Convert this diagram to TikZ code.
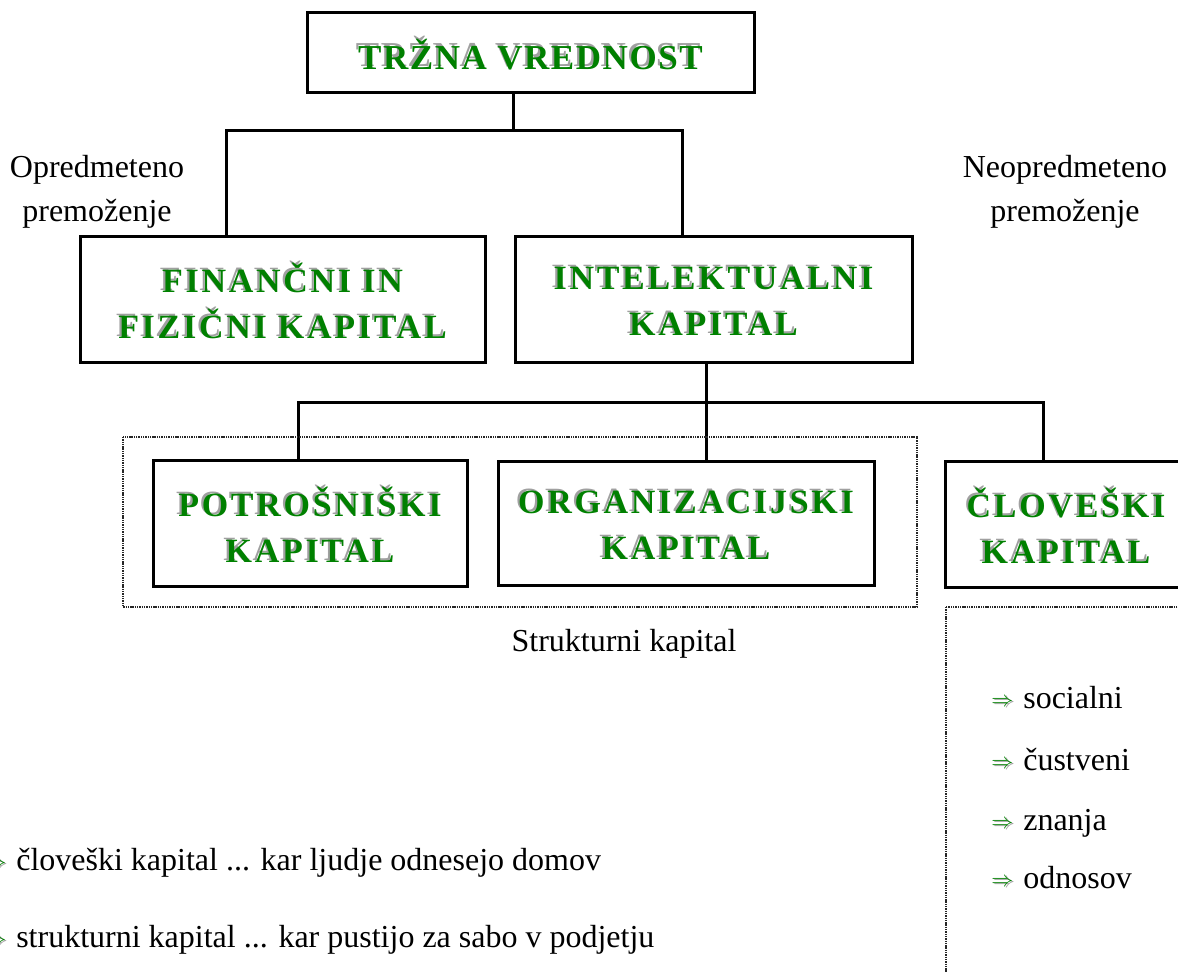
\documentclass[tikz,border=0pt]{standalone}
\usepackage{fontspec}
\usepackage{xcolor}
\setmainfont{Liberation Serif}
\newfontfamily\kapfont{Liberation Serif}[LetterSpace=8]
\newfontfamily\naslovfont{Liberation Serif}[LetterSpace=4.5]
\definecolor{zeleno}{RGB}{0,128,0}
\definecolor{sivo}{RGB}{160,160,160}
\tikzstyle{kap-box} = [draw=black, line width=1.5pt, rectangle, inner sep=0pt,
    align=center, font=\kapfont\bfseries\fontsize{17}{23}\selectfont]
\tikzstyle{kap-line} = [draw=black, line width=1.5pt]
\tikzstyle{dot-frame} = [draw=black!85, line width=1.1pt, dash pattern=on 0.7pt off 0.45pt]
\tikzstyle{note-text} = [inner sep=0pt, font=\fontsize{16}{19}\selectfont]
\newcommand{\senca}[1]{\makebox[0pt][l]{\hspace*{-1.1pt}\raisebox{1.1pt}{\textcolor{sivo}{#1}}}\textcolor{zeleno}{#1}}
\newcommand{\puscica}{{\fontsize{10.5}{10}\selectfont\makebox[0pt][l]{\hspace*{0.8pt}\raisebox{0.2pt}{\textcolor{sivo}{$\Rightarrow$}}}\raisebox{1pt}{\textcolor{zeleno}{$\Rightarrow$}}}}

\begin{document}
\begin{tikzpicture}[x=0.5pt, y=-0.5pt]
\useasboundingbox (0,0) rectangle (1178,972);
\clip (0,0) rectangle (1178,972);

% boxes
\node [kap-box, minimum width=223.5pt, minimum height=40pt,
    font=\naslovfont\bfseries\fontsize{17.5}{20}\selectfont] (trzna) at (530.5,53) {\senca{TRŽNA VREDNOST}};
\node [kap-box, minimum width=202.5pt, minimum height=63pt] (finan) at (282.5,300) {\senca{FINANČNI IN}\\\senca{FIZIČNI KAPITAL}};
\node [kap-box, minimum width=198.5pt, minimum height=63pt] (intel) at (713.5,300) {\senca{INTELEKTUALNI}\\\senca{KAPITAL}};
\node [kap-box, minimum width=157pt, minimum height=63pt] (potro) at (310,524) {\senca{POTROŠNIŠKI}\\\senca{KAPITAL}};
\node [kap-box, minimum width=188pt, minimum height=62pt] (organ) at (686,524) {\senca{ORGANIZACIJSKI}\\\senca{KAPITAL}};
\node [kap-box, minimum width=121pt, minimum height=63pt] (clov) at (1066,524.5) {\senca{ČLOVEŠKI}\\\senca{KAPITAL}};

% connectors
\coordinate (j1) at (513,131);
\coordinate (bar1l) at (226,131);
\coordinate (bar1r) at (682,131);
\draw [kap-line] (trzna.south -| j1) -- (j1);
\draw [kap-line] (finan.north -| bar1l) |- (bar1r) -- (intel.north -| bar1r);
\coordinate (j2) at (706,403);
\coordinate (bar2l) at (298,403);
\coordinate (bar2r) at (1043,403);
\draw [kap-line] (intel.south -| j2) -- (organ.north -| j2);
\draw [kap-line] (potro.north -| bar2l) |- (bar2r) -- (clov.north -| bar2r);

% dotted frames
\draw [dot-frame] (123,437) rectangle (917,607);
\draw [dot-frame] (946,607) rectangle (1200,1000);

% labels
\node [note-text, anchor=base] (opred1) at (97,178) {Opredmeteno};
\node [note-text, anchor=base] (opred2) at (97,222) {premoženje};
\node [note-text, anchor=base] (neopred1) at (1065,178) {Neopredmeteno};
\node [note-text, anchor=base] (neopred2) at (1065,222) {premoženje};
\node [note-text, anchor=base] (strukt) at (624,652) {Strukturni kapital};

\foreach \txt/\y [count=\i] in {socialni/708, čustveni/770, znanja/830, odnosov/888}
    \node [note-text, anchor=base west] (item\i) at (991,\y) {\puscica\hspace{5pt}\txt};

\node [note-text, anchor=base west] (note1) at (-16,870) {\puscica\hspace{5pt}človeški kapital ... kar ljudje odnesejo domov};
\node [note-text, anchor=base west] (note2) at (-16,947) {\puscica\hspace{5pt}strukturni kapital ... kar pustijo za sabo v podjetju};
\end{tikzpicture}
\end{document}
